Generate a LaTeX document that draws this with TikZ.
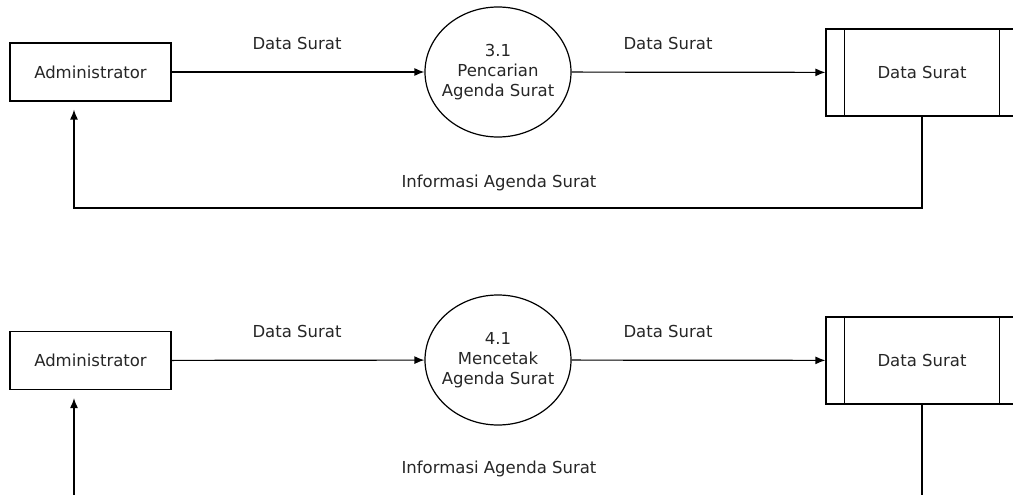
\documentclass[tikz,border=0pt]{standalone}
\usepackage{fontspec}
\setmainfont{DejaVu Sans}
\usetikzlibrary{shapes.geometric,arrows.meta}
\begin{document}
\begin{tikzpicture}
    [
    x=1pt, y=-1pt,
    every node/.style={font=\fontsize{16.5}{20}\selectfont, text=black!85},
    entity/.style={rectangle,draw,line width=1.2pt,minimum width=161pt,minimum height=58pt,inner sep=0pt},
    process/.style={ellipse,draw,line width=1.2pt,minimum width=146pt,minimum height=130pt,inner sep=-12pt,align=center},
    store/.style={rectangle,draw,line width=1.2pt,minimum width=192pt,minimum height=87pt,inner sep=0pt},
    flow/.style={line width=1.2pt},
    tip/.style={-{Latex[length=10pt,width=8pt]}}
    ]
    \useasboundingbox (0,0) rectangle (1013,495);
    \clip (0,0) rectangle (1013,495);
    % upper diagram
    \node (admin1) at (90.5,72) [entity] {Administrator};
    \node (proc31) at (498,72) [process] {3.1\\Pencarian\\Agenda Surat};
    \node (data1) at (922,72.5) [store] {Data Surat};
    \draw [flow] ([xshift=19pt]data1.north west) -- ([xshift=19pt]data1.south west);
    \draw [flow] ([xshift=-19pt]data1.north east) -- ([xshift=-19pt]data1.south east);
    \coordinate (ret1) at (74,208);
    \draw [flow,tip] (admin1) to (proc31);
    \draw [flow,tip] (proc31) to (data1);
    \draw [flow,tip,shorten >=8pt] (data1.south) |- (ret1) -- (ret1 |- admin1.south);
    \node (lbl1) at (297,43) {Data Surat};
    \node (lbl2) at (668,43) {Data Surat};
    \node (lbl3) at (499,183) {Informasi Agenda Surat};
    % lower diagram
    \node (admin2) at (90.5,360.5) [entity] {Administrator};
    \node (proc41) at (498,360) [process] {4.1\\Mencetak\\Agenda Surat};
    \node (data2) at (922,360.5) [store] {Data Surat};
    \draw [flow] ([xshift=19pt]data2.north west) -- ([xshift=19pt]data2.south west);
    \draw [flow] ([xshift=-19pt]data2.north east) -- ([xshift=-19pt]data2.south east);
    \coordinate (out2) at (922,500);
    \coordinate (in2) at (74,500);
    \draw [flow,tip] (admin2) to (proc41);
    \draw [flow,tip] (proc41) to (data2);
    \draw [flow] (data2.south) -- (out2);
    \draw [flow,tip,shorten >=8pt] (in2) -- (in2 |- admin2.south);
    \node (lbl4) at (297,331) {Data Surat};
    \node (lbl5) at (668,331) {Data Surat};
    \node (lbl6) at (499,469) {Informasi Agenda Surat};
  \end{tikzpicture}
\end{document}
